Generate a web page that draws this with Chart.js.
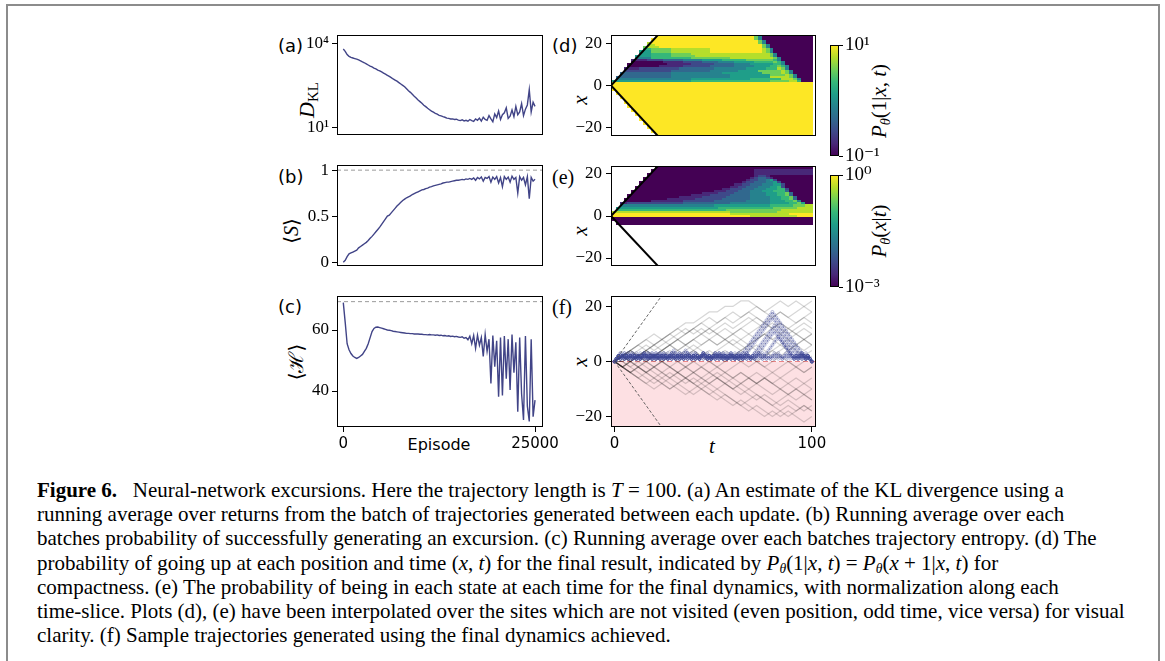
<!doctype html>
<html lang="en">
<head>
<meta charset="utf-8">
<title>Figure 6 - Neural-network excursions</title>
<script src="https://cdn.jsdelivr.net/npm/chart.js@4.4.1/dist/chart.umd.min.js"></script>
<style>
  html, body { margin: 0; padding: 0; background: #fff; }
  body { position: relative; width: 1165px; height: 661px; overflow: hidden; font-family: "Liberation Serif", serif; color: #000; }
  #box { position: absolute; left: 6px; top: 4px; width: 1150px; height: 720px; border: 2px solid #8c8c8c; }
  canvas { position: absolute; }
  .t { position: absolute; white-space: nowrap; line-height: 1; }
  .c { transform: translate(-50%, -50%); }
  .r { transform: translate(-50%, -50%) rotate(-90deg); }
  .sans { font-family: "DejaVu Sans", sans-serif; }
  .math { font-family: "Liberation Serif", "DejaVu Serif", serif; }
  .math sub { font-size: 68%; vertical-align: -0.3em; line-height: 0; }
  #caption { position: absolute; left: 37px; top: 478px; font-size: 21px; line-height: 24.2px; white-space: nowrap; }
  #caption sub { font-size: 65%; vertical-align: -0.25em; line-height: 0; }
</style>
</head>
<body>
<div id="box"></div>

<div class="t sans" style="left:278px;top:37px;font-size:18px">(a)</div>
<div class="t sans" style="left:278px;top:168px;font-size:18px">(b)</div>
<div class="t sans" style="left:278px;top:298px;font-size:18px">(c)</div>
<div class="t sans" style="left:552px;top:37px;font-size:18px">(d)</div>
<div class="t math" style="left:552px;top:167px;font-size:20px">(e)</div>
<div class="t math" style="left:552px;top:297px;font-size:20px">(f)</div>

<div class="t math r" style="left:307px;top:100px;font-size:22px"><i>D</i><sub>KL</sub></div>
<div class="t math r" style="left:291px;top:231px;font-size:20px">⟨<i>S</i>⟩</div>
<div class="t math r" style="left:296px;top:362px;font-size:20px">⟨ℋ⟩</div>
<div class="t math r" style="left:580px;top:100px;font-size:21px"><i>x</i></div>
<div class="t math r" style="left:580px;top:231px;font-size:21px"><i>x</i></div>
<div class="t math r" style="left:580px;top:362px;font-size:21px"><i>x</i></div>
<div class="t math r" style="left:879px;top:101px;font-size:21px"><i>P</i><sub><i>θ</i></sub>(1|<i>x</i>, <i>t</i>)</div>
<div class="t math r" style="left:879px;top:231px;font-size:21px"><i>P</i><sub><i>θ</i></sub>(<i>x</i>|<i>t</i>)</div>
<div class="t sans c" style="left:439px;top:445px;font-size:16px">Episode</div>
<div class="t math c" style="left:712px;top:446px;font-size:21px"><i>t</i></div>

<div id="caption">
<div><b>Figure 6.</b>&ensp; Neural-network excursions. Here the trajectory length is <i>T</i> = 100. (a) An estimate of the KL divergence using a</div>
<div>running average over returns from the batch of trajectories generated between each update. (b) Running average over each</div>
<div>batches probability of successfully generating an excursion. (c) Running average over each batches trajectory entropy. (d) The</div>
<div>probability of going up at each position and time (<i>x</i>, <i>t</i>) for the final result, indicated by <i>P</i><sub><i>θ</i></sub>(1|<i>x</i>, <i>t</i>) = <i>P</i><sub><i>θ</i></sub>(<i>x</i> + 1|<i>x</i>, <i>t</i>) for</div>
<div>compactness. (e) The probability of being in each state at each time for the final dynamics, with normalization along each</div>
<div>time-slice. Plots (d), (e) have been interpolated over the sites which are not visited (even position, odd time, vice versa) for visual</div>
<div>clarity. (f) Sample trajectories generated using the final dynamics achieved.</div>
</div>

<script>
// ---------- data ----------
const episodes = Array.from({length: 101}, (_, i) => i * 250);

// (a) D_KL, read as powers of ten on the log axis
const klExponent = [
  3.80, 3.72, 3.60, 3.54, 3.50, 3.48, 3.46, 3.44, 3.41, 3.38,
  3.34, 3.31, 3.27, 3.23, 3.19, 3.16, 3.12, 3.09, 3.05, 3.02,
  2.98, 2.94, 2.90, 2.86, 2.82, 2.78, 2.73, 2.69, 2.65, 2.60,
  2.55, 2.50, 2.45, 2.38, 2.31, 2.25, 2.18, 2.11, 2.05, 1.98,
  1.92, 1.86, 1.79, 1.74, 1.68, 1.63, 1.58, 1.54, 1.50, 1.47,
  1.43, 1.41, 1.38, 1.36, 1.33, 1.32, 1.30, 1.30, 1.28, 1.29,
  1.26, 1.24, 1.27, 1.23, 1.25, 1.22, 1.28, 1.24, 1.21, 1.30,
  1.25, 1.33, 1.22, 1.36, 1.28, 1.25, 1.42, 1.30, 1.20, 1.48,
  1.35, 1.58, 1.28, 1.45, 1.52, 1.70, 1.32, 1.40, 1.62, 1.38,
  1.75, 1.45, 1.55, 1.85, 1.42, 1.65, 1.80, 2.35, 1.55, 1.90,
  1.75
];

// (b) success probability <S>
const success = [
  0.00, 0.02, 0.06, 0.09, 0.10, 0.11, 0.12, 0.13, 0.155, 0.17,
  0.185, 0.20, 0.215, 0.235, 0.26, 0.28, 0.305, 0.33, 0.355, 0.38,
  0.41, 0.44, 0.47, 0.50, 0.51, 0.535, 0.56, 0.585, 0.61, 0.63,
  0.65, 0.67, 0.685, 0.70, 0.71, 0.72, 0.735, 0.745, 0.755, 0.765,
  0.775, 0.785, 0.79, 0.80, 0.805, 0.815, 0.82, 0.83, 0.835, 0.84,
  0.845, 0.85, 0.86, 0.865, 0.87, 0.87, 0.875, 0.88, 0.885, 0.89,
  0.89, 0.895, 0.90, 0.895, 0.905, 0.90, 0.91, 0.90, 0.915, 0.89,
  0.92, 0.905, 0.925, 0.88, 0.92, 0.91, 0.93, 0.87, 0.925, 0.90,
  0.93, 0.86, 0.92, 0.82, 0.93, 0.90, 0.925, 0.87, 0.935, 0.90,
  0.92, 0.75, 0.93, 0.89, 0.92, 0.84, 0.93, 0.69, 0.92, 0.88,
  0.90
];

// (c) trajectory entropy <H>
const entropy = [
  69.0, 62.5, 55.5, 53.5, 52.3, 51.5, 51.0, 50.7, 51.0, 51.5,
  52.0, 53.0, 54.0, 55.5, 57.5, 59.5, 60.5, 60.9, 61.0, 60.8,
  60.6, 60.4, 60.2, 60.0, 59.9, 59.8, 59.6, 59.5, 59.4, 59.3,
  59.2, 59.1, 59.0, 58.9, 58.9, 58.8, 58.8, 58.7, 58.7, 58.7,
  58.6, 58.6, 58.5, 58.5, 58.4, 58.5, 58.4, 58.4, 58.3, 58.4,
  58.2, 58.3, 58.1, 58.2, 58.0, 58.1, 57.9, 58.0, 57.8, 57.9,
  57.7, 57.6, 57.8, 57.3, 57.5, 56.8, 58.0, 55.5, 58.2, 54.0,
  58.3, 55.0, 57.5, 51.3, 58.5, 53.0, 57.0, 42.5, 58.2, 48.0,
  56.5, 38.1, 57.5, 38.5, 58.0, 44.0, 57.0, 40.3, 58.5, 46.0,
  56.0, 33.2, 57.5, 39.0, 30.5, 58.0, 35.0, 30.0, 57.0, 31.6,
  37.0
];
const successTarget = 1;
const entropyMax = 69.3;

const klTicks = [10, 10000];
const successTicks = [0, 0.5, 1];
const entropyTicks = [40, 60];
const episodeTicks = [0, 25000];
const siteTicks = [-20, 0, 20];
const timeTicks = [0, 100];
const upProbTicks = [0.1, 10];
const stateProbTicks = [0.001, 1];

// (d), (e): colour level 0-9 per cell, time step 2, one row per site (x = 23 ... -24), "_n" = n empty cells
const times = Array.from({length: 51}, (_, k) => 2 * k);
const sites = Array.from({length: 48}, (_, j) => 23 - j);
const upProbRows = [
  "_11 9*25 7 4 0*13", "_10 9*26 7 4 0*13", "_10 9*27 7 4 0*12", "_9 8 9*27 7 4 0*12",
  "_9 8*2 9*27 7 4 0*11", "_8 7 8*3 9*26 7 4 0*11", "_8 6*2 7*5 8*10 9*13 8 7 4 0*10", "_7 5*3 7*5 8*10 9*13 8 7 4 0*10",
  "_7 5*3 6*5 7*5 8*19 8 7 4 0*9", "_6 5*4 6*5 7*6 8*18 8 7 4 0*9", "_6 4*4 6*10 7*10 8*10 8 7 4 0*8",
  "_5 1*4 2*4 3*5 4*5 5*5 6*6 7*6 7 6 4 0*8", "_5 0*8 1*5 2*5 3*4 4*4 5*5 6*5 7 6 4 0*7",
  "_4 0*10 1*6 2*6 3*5 4*4 5*6 6 6 4 0*7", "_4 0*8 1*6 2*7 3*6 4*5 5*4 6*2 7 6 4 0*6",
  "_3 1*4 2*10 3*9 4*8 5*5 6*3 8 7 4 0*6", "_3 2*12 3*10 4*7 5*5 7*6 8 7 4 0*5", "_2 3*13 4*13 5*10 7*5 8 7 4 0*5",
  "_2 3*13 4*15 5*10 7*4 8 7 4 0*4", "_1 3*14 4*15 5*10 8*4 8 7 4 0*4", "_1 4*19 5*15 6*8 8*3 7 4 0*3",
  "5*20 6*20 7*5 8 8 6 0*3", "9*51", "9*51", "9*51", "9*51",
  "_1 9*50", "_1 9*50", "_2 9*49", "_2 9*49", "_3 9*48", "_3 9*48", "_4 9*47", "_4 9*47",
  "_5 9*46", "_5 9*46", "_6 9*45", "_6 9*45", "_7 9*44", "_7 9*44", "_8 9*43", "_8 9*43",
  "_9 9*42", "_9 9*42", "_10 9*41", "_10 9*41", "_11 9*40", "_11 9*40"
];
const stateProbRows = [
  "_11 0*40", "_10 0*26 1*15", "_10 0*26 1*15", "_9 0*27 1*15",
  "_9 0*27 1 2 2 1 0*11", "_8 0*27 1 2 3 3 2 1 0*10", "_8 0*26 1 2 2 3 3 4 5 2 0*9",
  "_7 0*26 1 2 2 3 3 3 4 4 5 2 0*8", "_7 0*24 1 1 2 2 3 3 3 4 4 4 5 5 2 0*7",
  "_6 0*24 1 1 2 2 3 3 3 4 4 4 5 5 6 2 0*7", "_6 0*22 1 1 2 2 2 3 3 3 4 4 4 5 5 5 6 6 2 0*6",
  "_5 0*21 1 1 1 2 2 2 3 3 3 4 4 4 5 5 5 6 6 6 3 0*6", "_5 0*18 1*4 2*4 3*4 4*4 5*3 6*2 7 3 0*5",
  "_4 0*16 1*5 2*5 3*5 4*4 5*3 6*2 7 3 0*5", "_4 0*13 1*6 2*6 3*6 4*5 5*3 6*2 7 3 0*4",
  "_3 0*11 1*7 2*7 3*7 4*5 5*3 6*2 7 3 0*4", "_3 0*7 1*8 2*8 3*8 4*6 5*4 6*2 7 4 0*3",
  "_2 1*2 2*14 3*12 4*10 5*5 6*2 7 5 0*2", "_2 4*24 5*14 6*6 7*3 8*2", "_1 5*26 6*14 7*6 8*4",
  "_1 6*28 7*14 8*8", "8*30 7*12 8*9", "9*30 8*15 9*6", "9*35 8*12 9*4",
  "0*51", "0*51", "_1 0*50", "_1 0*50",
  "_51", "_51", "_51", "_51", "_51", "_51", "_51", "_51", "_51", "_51",
  "_51", "_51", "_51", "_51", "_51", "_51", "_51", "_51", "_51", "_51"
];
const coneT = [0, 30];
const mapOffset = 1.8;

// (f) sample trajectories every 4 steps, and successful excursions at every step
const walkTimes = Array.from({length: 26}, (_, i) => 4 * i);
const walks = [
  [0,2,4,6,8,10,8,10,12,14,14,16,18,18,20,20,22,22,20,18,20,22,20,22,20,22],
  [0,2,4,2,4,6,8,10,12,10,12,14,16,14,16,18,16,18,20,18,16,18,16,14,16,18],
  [0,0,2,4,6,4,6,8,10,12,10,12,10,12,14,12,14,16,14,12,14,12,10,12,14,12],
  [0,2,0,2,4,6,4,6,8,6,8,10,12,10,8,10,12,14,16,14,12,10,12,10,8,10],
  [0,-2,0,2,4,2,4,6,4,6,8,6,8,10,8,6,8,10,8,10,12,14,12,14,16,14],
  [0,2,4,2,0,2,4,6,8,10,12,14,12,10,12,10,8,6,8,10,8,6,4,6,8,6],
  [0,0,-2,0,2,0,2,4,2,4,6,4,2,4,6,8,6,4,6,4,2,4,6,4,2,4],
  [0,-2,-4,-2,0,-2,0,2,0,-2,0,2,4,2,0,2,4,2,0,-2,0,2,0,-2,0,2],
  [0,2,0,-2,-4,-2,-4,-6,-4,-2,0,-2,-4,-6,-4,-2,0,2,0,-2,-4,-2,0,-2,-4,-2],
  [0,-2,-4,-6,-4,-6,-8,-6,-4,-6,-8,-10,-8,-6,-8,-10,-12,-10,-8,-6,-8,-10,-8,-6,-8,-6],
  [0,-2,-4,-2,-4,-6,-8,-10,-8,-10,-12,-10,-12,-14,-12,-14,-16,-14,-12,-14,-16,-18,-16,-18,-16,-18],
  [0,0,-2,-4,-6,-8,-6,-8,-10,-12,-10,-8,-10,-12,-14,-16,-14,-16,-18,-20,-18,-20,-18,-20,-22,-20],
  [0,-2,0,-2,-4,-2,-4,-2,-4,-6,-4,-6,-8,-6,-8,-6,-4,-6,-8,-10,-12,-10,-12,-14,-12,-14],
  [0,2,0,2,0,-2,0,-2,-4,-2,-4,-6,-4,-2,-4,-6,-8,-6,-4,-6,-8,-6,-4,-2,-4,-2],
  [0,2,4,6,4,2,4,6,8,6,4,6,8,6,8,10,12,10,12,14,16,18,16,18,20,18],
  [0,-2,0,2,0,2,0,-2,0,-2,-4,-2,0,-2,-4,-6,-4,-6,-8,-6,-4,-6,-8,-10,-8,-10],
  [0,0,2,0,-2,-4,-6,-4,-6,-8,-6,-8,-6,-4,-6,-8,-10,-12,-14,-12,-14,-16,-14,-16,-18,-16],
  [0,2,4,6,8,6,8,10,8,10,12,10,8,6,8,6,4,6,4,2,4,2,4,6,4,6],
  [0,-2,-4,-6,-8,-10,-8,-10,-8,-6,-8,-10,-12,-10,-8,-10,-8,-10,-12,-14,-16,-14,-12,-10,-12,-10],
  [0,2,0,-2,0,2,4,2,4,6,8,10,12,14,16,14,16,18,16,14,12,14,12,10,12,10],
  [0,-2,-4,-2,-4,-2,0,-2,-4,-6,-8,-6,-8,-10,-12,-14,-16,-18,-16,-18,-20,-18,-20,-18,-16,-18],
  [0,2,4,2,4,2,0,2,0,2,4,2,0,-2,0,2,0,-2,0,2,4,6,8,10,8,10],
  [0,-2,0,2,4,6,8,6,4,2,4,2,0,2,4,2,4,6,8,10,8,10,8,6,8,6],
  [0,-2,-4,-6,-8,-6,-4,-6,-8,-6,-4,-2,-4,-6,-8,-10,-8,-6,-8,-6,-8,-10,-12,-10,-12,-14]
];
const digits = s => s.replace(/\s/g, '').split('').map(Number);
const excursions = [
  digits('0121212321 2121232321 2121232123 2121234321 2121232321 2123212123 2321212121 2321232121 2123212321 2121232121 0'),
  digits('0123212123 2121212321 2321212123 4321212121 2321232121 2121232123 2121212321 2123212121 2321212123 2121232121 0'),
  digits('0121212321 2121232121 2123212121 2321212121 2121232121 2123212121 21232')
    .concat([3,4,5,6,7,8,9,10,11,12,13,14,15,16,17,18,17,16,15,14,13,12,11,10,9,8,7,6,5,4,3,2,3,2,1,0]),
  digits('0121232121 2123212121 2321212123 2121212321 2121232121 2321212121 2123212')
    .concat([3,4,5,6,7,8,9,10,11,12,13,14,15,16,15,14,13,12,11,10,9,8,7,6,5,4,3,2,1,2,1,2,1,0]),
  digits('0123212121 2321212123 2121232121 2123212321 2121232121 2321212123 2121212121 2')
    .concat([3,4,5,6,7,8,9,10,11,12,13,12,11,10,9,8,7,6,5,4,3,2,3,2,1,2,1,2,1,0]),
  digits('0121212123 2121232121 2123212121 2121232123 2121212121 2321212321 2121232121 212')
    .concat([3,4,5,6,7,8,9,10,11,10,9,8,7,6,5,4,3,2,1,2,1,2,1,2,1,2,1,0]),
  digits('0121232121 2121232123 2121212321 2123212121 2321212121 2123232121 2121212321 2123212')
    .concat([3,4,5,6,7,8,9,8,7,6,5,4,3,2,1,2,1,2,3,2,1,2,1,0])
];

// ---------- styling ----------
const SERIF = '"Liberation Serif", "DejaVu Serif", serif';
const SANS = '"DejaVu Sans", sans-serif';
const LINE = '#414487';
const viridis = ['#440154', '#482878', '#3e4989', '#31688e', '#26828e', '#1f9e89', '#35b779', '#6ece58', '#b5de2b', '#fde725'];
const PAD = 15, YW = 60, XH = 30, RP = 30;

const A = {l: 337, t: 35, w: 206, h: 130};
const B = {l: 337, t: 165, w: 206, h: 131};
const C = {l: 337, t: 296, w: 206, h: 131};
const D = {l: 611, t: 35, w: 205, h: 131};
const E = {l: 611, t: 166, w: 205, h: 130};
const F = {l: 611, t: 296, w: 205, h: 131};
const CB1 = {l: 830, t: 45, w: 9, h: 111};
const CB2 = {l: 830, t: 175, w: 9, h: 112};

Chart.defaults.animation = false;
Chart.defaults.font.family = SERIF;
Chart.defaults.color = '#000';
Chart.defaults.plugins.legend.display = false;
Chart.defaults.plugins.tooltip.enabled = false;

function expandRow(s) {
  const out = [];
  for (const tok of s.trim().split(/\s+/)) {
    if (tok[0] === '_') {
      for (let i = 0; i < +tok.slice(1); i++) out.push(null);
    } else {
      const [lv, n] = tok.split('*');
      for (let i = 0; i < (n ? +n : 1); i++) out.push(+lv);
    }
  }
  return out;
}

const heatmap = {
  id: 'heatmap',
  beforeDatasetsDraw(chart, args, o) {
    if (!o.rows) return;
    const {ctx, chartArea: a, scales: {x, y}} = chart;
    ctx.save();
    ctx.beginPath();
    ctx.rect(a.left, a.top, a.width, a.height);
    ctx.clip();
    o.rows.forEach((row, j) => {
      const y0 = Math.round(y.getPixelForValue(o.sites[j] + 0.5));
      const y1 = Math.round(y.getPixelForValue(o.sites[j] - 0.5));
      row.forEach((lv, k) => {
        if (lv == null) return;
        const t = o.times[k] - o.offset / 2;
        const x0 = Math.round(x.getPixelForValue(t - 1));
        const x1 = Math.round(x.getPixelForValue(t + 1));
        ctx.fillStyle = viridis[lv];
        ctx.fillRect(x0, y0, x1 - x0, y1 - y0);
      });
    });
    ctx.restore();
  }
};

const band = {
  id: 'band',
  beforeDatasetsDraw(chart, args, o) {
    if (o.from == null) return;
    const {ctx, chartArea: a, scales: {y}} = chart;
    const top = y.getPixelForValue(o.from);
    const bottom = y.getPixelForValue(y.min);
    ctx.save();
    ctx.fillStyle = o.color;
    ctx.fillRect(a.left, top, a.width, bottom - top);
    ctx.restore();
  }
};

const refLine = {
  id: 'refLine',
  beforeDatasetsDraw(chart, args, o) {
    if (o.value == null) return;
    const {ctx, chartArea: a, scales: {y}} = chart;
    const py = y.getPixelForValue(o.value);
    ctx.save();
    ctx.strokeStyle = o.color;
    ctx.lineWidth = o.width || 1;
    ctx.setLineDash(o.dash || []);
    ctx.beginPath();
    ctx.moveTo(a.left, py);
    ctx.lineTo(a.right, py);
    ctx.stroke();
    ctx.restore();
  }
};

const frame = {
  id: 'frame',
  afterDraw(chart) {
    const {ctx, chartArea: a} = chart;
    ctx.save();
    ctx.strokeStyle = '#000';
    ctx.lineWidth = 1;
    ctx.strokeRect(Math.round(a.left) + 0.5, Math.round(a.top) + 0.5, Math.round(a.width) - 1, Math.round(a.height) - 1);
    ctx.restore();
  }
};
Chart.register(heatmap, band, refLine, frame);

function addCanvas(left, top, width, height) {
  const c = document.createElement('canvas');
  c.width = width;
  c.height = height;
  Object.assign(c.style, {left: left + 'px', top: top + 'px', width: width + 'px', height: height + 'px'});
  document.body.appendChild(c);
  return c;
}
const panelCanvas = (r, withX) => addCanvas(r.l - YW, r.t - PAD, YW + r.w + RP, PAD + r.h + (withX ? XH : 0) + PAD);

const sup = {'-': '⁻', '0': '⁰', '1': '¹', '2': '²', '3': '³', '4': '⁴'};
const pow10 = v => '10' + String(Math.round(Math.log10(v))).split('').map(c => sup[c]).join('');
const signed = v => (v < 0 ? '−' + Math.abs(v) : String(v));
const fixedTicks = values => s => { s.ticks = values.map(v => ({value: v})); };
const tickGrid = {drawOnChartArea: false, drawTicks: true, tickLength: 5, color: '#000', lineWidth: 1};

function yScale(min, max, values, label, extra) {
  return Object.assign({
    type: 'linear', position: 'left', min, max,
    afterBuildTicks: fixedTicks(values),
    afterFit: s => { s.width = YW; },
    grid: tickGrid,
    border: {display: false},
    ticks: {autoSkip: false, padding: 3, color: '#000', font: {family: SERIF, size: 17}, callback: label}
  }, extra || {});
}
function xScale(min, max, values, show) {
  return {
    type: 'linear', min, max, display: show,
    afterBuildTicks: fixedTicks(values),
    afterFit: s => { s.height = XH; },
    grid: tickGrid,
    border: {display: false},
    ticks: {autoSkip: false, maxRotation: 0, padding: 3, color: '#000', font: {family: SANS, size: 15}, callback: v => String(v)}
  };
}
const layout = {padding: {top: PAD, bottom: PAD, left: 0, right: RP}};
const EP_MIN = -820, EP_MAX = 26040;
const T_MIN = -1.8, T_MAX = 102.1, X_MIN = -23.8, X_MAX = 23.8;

function seriesLine(values) {
  return {data: episodes.map((e, i) => ({x: e, y: values[i]})), borderColor: LINE, borderWidth: 1.4, pointRadius: 0};
}

// (a)
new Chart(panelCanvas(A, false), {
  type: 'line',
  data: {datasets: [seriesLine(klExponent.map(p => 10 ** p))]},
  options: {
    responsive: false, layout,
    scales: {
      x: xScale(EP_MIN, EP_MAX, episodeTicks, false),
      y: yScale(5.31, 20090, klTicks, pow10, {type: 'logarithmic'})
    }
  }
});

// (b)
new Chart(panelCanvas(B, false), {
  type: 'line',
  data: {datasets: [seriesLine(success)]},
  options: {
    responsive: false, layout,
    plugins: {refLine: {value: successTarget, color: '#9a9a9a', dash: [4, 3], width: 1}},
    scales: {
      x: xScale(EP_MIN, EP_MAX, episodeTicks, false),
      y: yScale(-0.042, 1.056, successTicks, v => String(v))
    }
  }
});

// (c)
new Chart(panelCanvas(C, true), {
  type: 'line',
  data: {datasets: [seriesLine(entropy)]},
  options: {
    responsive: false, layout,
    plugins: {refLine: {value: entropyMax, color: '#9a9a9a', dash: [4, 3], width: 1}},
    scales: {
      x: xScale(EP_MIN, EP_MAX, episodeTicks, true),
      y: yScale(28.2, 71.15, entropyTicks, v => String(v))
    }
  }
});

function coneSets(offset, color, width, dash) {
  return [1, -1].map(sign => ({
    data: coneT.map(t => ({x: t - offset, y: sign * t})),
    showLine: true, borderColor: color, borderWidth: width, borderDash: dash, pointRadius: 0
  }));
}
const siteAxis = () => yScale(X_MIN, X_MAX, siteTicks, signed, {ticks: {autoSkip: false, padding: 4, color: '#000', font: {family: SERIF, size: 17}, callback: signed}});

// (d), (e)
[[D, upProbRows], [E, stateProbRows]].forEach(([r, rows]) => {
  new Chart(panelCanvas(r, false), {
    type: 'scatter',
    data: {datasets: coneSets(mapOffset, '#000', 2, [])},
    options: {
      responsive: false, layout,
      plugins: {heatmap: {rows: rows.map(expandRow), sites, times, offset: mapOffset / 2}},
      scales: {x: xScale(T_MIN, T_MAX, timeTicks, false), y: siteAxis()}
    }
  });
});

// (f)
const fSets = [
  ...coneSets(0, '#555', 0.9, [3, 2]),
  ...excursions.map(path => ({
    data: path.map((v, t) => ({x: t, y: v})),
    showLine: true, borderColor: 'rgba(60,70,150,0.45)', borderWidth: 1,
    pointRadius: 1.5, pointBorderWidth: 0.7, pointBackgroundColor: 'rgba(0,0,0,0)', pointBorderColor: 'rgba(60,70,150,0.5)'
  })),
  ...walks.map(path => ({
    data: path.map((v, i) => ({x: walkTimes[i], y: v})),
    showLine: true, borderColor: 'rgba(0,0,0,0.16)', borderWidth: 1.2, pointRadius: 0
  }))
];
new Chart(panelCanvas(F, true), {
  type: 'scatter',
  data: {datasets: fSets},
  options: {
    responsive: false, layout,
    plugins: {
      band: {from: 0, color: '#fde0e3'},
      refLine: {value: 0, color: 'rgba(225,90,90,0.7)', dash: [5, 3], width: 1.2}
    },
    scales: {x: xScale(T_MIN, T_MAX, timeTicks, true), y: siteAxis()}
  }
});

// colour bars
function colourBar(r, lo, hi, ticks) {
  const cv = addCanvas(r.l, r.t - PAD, r.w + 50, PAD + r.h + PAD);
  new Chart(cv, {
    type: 'bar',
    data: {
      labels: [''],
      datasets: [{
        data: [[lo, hi]], borderWidth: 0, barPercentage: 1, categoryPercentage: 1,
        backgroundColor: ctx => {
          const a = ctx.chart.chartArea;
          if (!a) return viridis[5];
          const g = ctx.chart.ctx.createLinearGradient(0, a.bottom, 0, a.top);
          viridis.forEach((c, i) => g.addColorStop(i / (viridis.length - 1), c));
          return g;
        }
      }]
    },
    options: {
      responsive: false,
      layout: {padding: {top: PAD, bottom: PAD, left: 0, right: 0}},
      scales: {
        x: {display: false},
        y: {
          type: 'logarithmic', position: 'right', min: lo, max: hi,
          afterBuildTicks: fixedTicks(ticks),
          afterFit: s => { s.width = 50; },
          grid: {drawOnChartArea: false, drawTicks: true, tickLength: 4, color: '#000'},
          border: {display: false},
          ticks: {autoSkip: false, padding: 2, color: '#000', font: {family: SERIF, size: 19}, callback: pow10}
        }
      }
    }
  });
}
colourBar(CB1, 0.1, 10, upProbTicks);
colourBar(CB2, 0.001, 1, stateProbTicks);
</script>
</body>
</html>
